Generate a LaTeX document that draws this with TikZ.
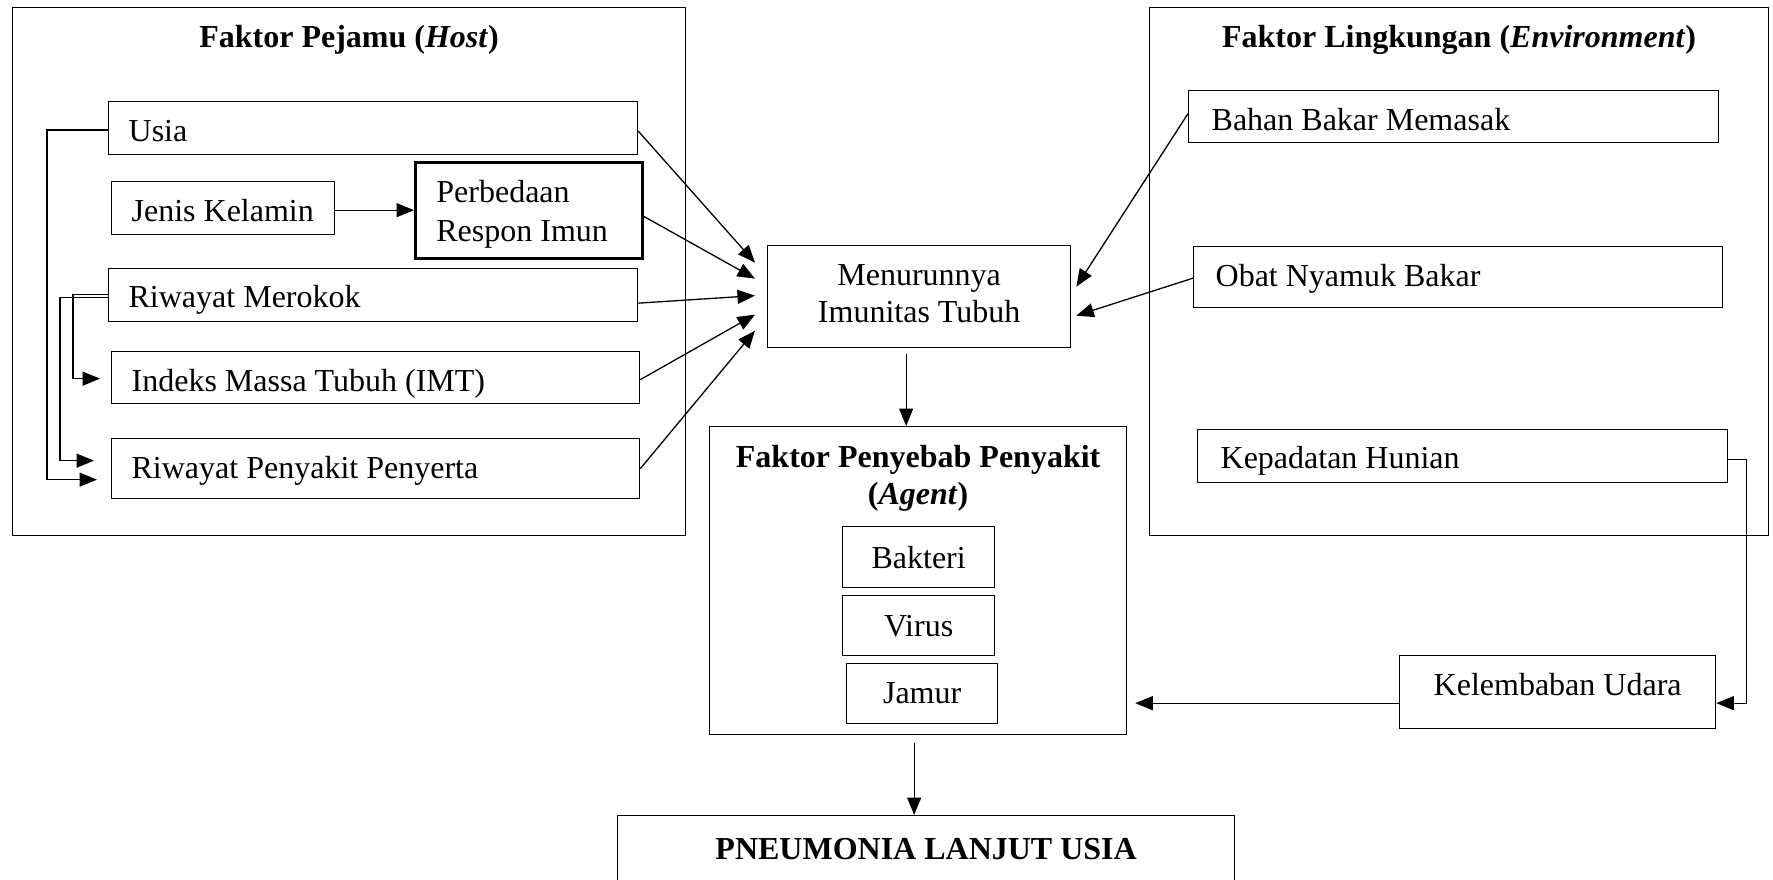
\documentclass[tikz,border=0pt]{standalone}
\usepackage{fontspec}
\setmainfont{Liberation Serif}
\usetikzlibrary{arrows.meta,calc}
\newcommand{\lfttext}[2]{\makebox[#1][l]{#2}}
\begin{document}
\begin{tikzpicture}[x=1pt,y=-1pt,
  box/.style={draw, line width=1.3pt, inner sep=0pt, anchor=north west, font=\fontsize{32}{36.7}\selectfont},
  lbox/.style={box, inner xsep=20pt},
  rbox/.style={box, inner xsep=23pt},
  cbox/.style={box, align=center},
  bl/.style={text height=#1, text depth=0pt},
  titletext/.style={font=\fontsize{32}{37}\selectfont\bfseries, inner sep=0pt, align=center},
  arr/.style={line width=1.3pt, -{Triangle[length=17.5pt,width=14pt]}}]
\useasboundingbox (0,0) rectangle (1773,880);
\clip (0,0) rectangle (1773,880);
% frames
\node[box, minimum width=673pt, minimum height=528pt] (host) at (12,7) {};
\node[titletext, anchor=base] (hosttitle) at (349,48) {Faktor Pejamu (\textit{Host})};
\node[box, minimum width=619pt, minimum height=528pt] (env) at (1149,7) {};
\node[titletext, anchor=base] (envtitle) at (1459,48) {Faktor Lingkungan (\textit{Environment})};
% host factors
\node[lbox, bl=26.8pt, minimum width=529pt, minimum height=53pt] (usia) at (108,101) {\lfttext{489pt}{Usia}};
\node[lbox, bl=27pt, minimum width=223pt, minimum height=53pt] (jenis) at (111,181) {\lfttext{183pt}{Jenis Kelamin}};
\node[box, line width=2.8pt, inner xsep=21pt, minimum width=227pt, minimum height=96pt] (perb) at (414,161)
  {\makebox[185pt][l]{\raisebox{-3.7pt}[\height][\depth]{\fontsize{32}{39}\selectfont\begin{tabular}{@{}l@{}}Perbedaan\\Respon Imun\end{tabular}}}};
\node[lbox, bl=25.6pt, minimum width=529pt, minimum height=53pt] (merokok) at (108,268) {\lfttext{489pt}{Riwayat Merokok}};
\node[lbox, bl=28pt, minimum width=528pt, minimum height=52pt] (imt) at (111,351) {\lfttext{488pt}{Indeks Massa Tubuh (IMT)}};
\node[lbox, bl=20pt, minimum width=528pt, minimum height=60pt] (penyakit) at (111,438) {\lfttext{488pt}{Riwayat Penyakit Penyerta}};
% centre
\node[box, minimum width=303pt, minimum height=102pt] (menurun) at (767,245)
  {\begin{tabular}{@{}c@{}}Menurunnya\\Imunitas Tubuh\end{tabular}};
\node[box, minimum width=417pt, minimum height=308pt] (agent) at (709,426) {};
\node[titletext, anchor=north] (agenttitle) at ($(agent.north)+(0,19)$) {Faktor Penyebab Penyakit\\(\textit{Agent})};
\node[cbox, minimum width=152pt, minimum height=61pt] (bakteri) at (842,526) {Bakteri};
\node[cbox, minimum width=152pt, minimum height=60pt] (virus) at (842,595) {Virus};
\node[cbox, minimum width=151pt, minimum height=60pt] (jamur) at (846,663) {Jamur};
\node[cbox, minimum width=617pt, minimum height=66pt, font=\fontsize{32}{37}\selectfont\bfseries] (pneu) at (617,815) {PNEUMONIA LANJUT USIA};
% environment factors
\node[rbox, bl=28pt, minimum width=530pt, minimum height=52pt] (bahan) at (1188,90) {\lfttext{484pt}{Bahan Bakar Memasak}};
\node[rbox, bl=18.8pt, inner xsep=22pt, minimum width=529pt, minimum height=61pt] (obat) at (1193,246) {\lfttext{485pt}{Obat Nyamuk Bakar}};
\node[rbox, bl=24.4pt, minimum width=530pt, minimum height=53pt] (kepadatan) at (1197,429) {\lfttext{484pt}{Kepadatan Hunian}};
\node[cbox, bl=7.4pt, minimum width=316pt, minimum height=73pt] (kel) at (1399,655) {Kelembaban Udara};
% host -> menurunnya
\draw[arr] ($(usia.east)+(0,3)$) -- ($(menurun.west)+(-12,-34)$);
\draw[arr] ($(perb.east)+(0,6)$) -- ($(menurun.west)+(-12,-18)$);
\draw[arr] ($(merokok.east)+(0,8)$) -- ($(menurun.west)+(-12,-1)$);
\draw[arr] ($(imt.east)+(0,2)$) -- ($(menurun.west)+(-12,18)$);
\draw[arr] (penyakit.east) -- ($(menurun.west)+(-12,34)$);
\draw[arr] ($(jenis.east)+(0,2)$) -- ($(jenis.east -| perb.west)+(0,2)$);
% left-side links
\draw[arr] ($(usia.west)+(0,2)$) -- ++(-61,0) |- ($(penyakit.west)+(-14,11)$);
\draw[arr] ($(merokok.west)+(0,2)$) -- ++(-48,0) |- ($(penyakit.west)+(-17,-8)$);
\draw[arr] ($(merokok.west)+(0,-1)$) -- ++(-35,0) |- ($(imt.west)+(-11,1)$);
% environment -> menurunnya
\draw[arr] ($(bahan.west)+(0,-3)$) -- ($(menurun.east)+(5,-10)$);
\draw[arr] ($(obat.west)+(0,1)$) -- ($(menurun.east)+(5,19)$);
% vertical flow
\coordinate (ms) at ($(menurun.south)+(-13,6)$);
\draw[arr] (ms) -- (ms |- agent.north);
\coordinate (as) at ($(agent.south)+(-4,8)$);
\draw[arr] (as) -- (as |- pneu.north);
% kepadatan -> kelembaban -> agent
\coordinate (ke) at ($(kepadatan.east)+(0,3)$);
\coordinate (kr) at ($(kel.east)+(0,11)$);
\draw[arr] (ke) -- ++(18,0) |- (kr);
\coordinate (kw) at ($(kel.west)+(0,11)$);
\draw[arr, shorten >=8pt] (kw) -- (kw -| agent.east);
\end{tikzpicture}
\end{document}
